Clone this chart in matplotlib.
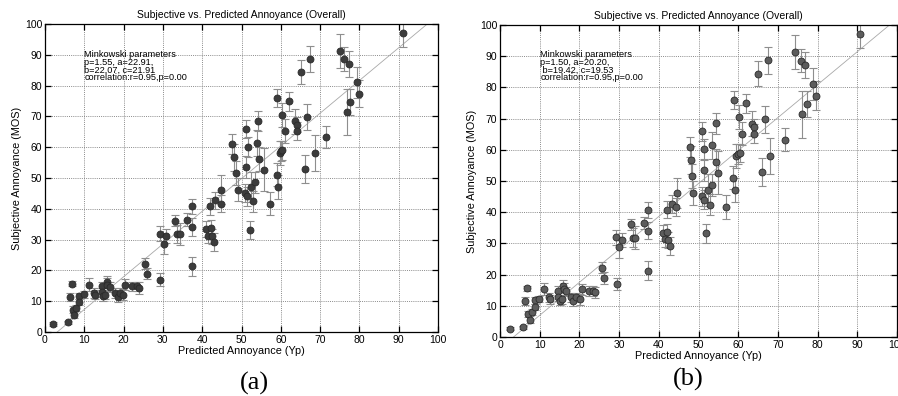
import matplotlib
matplotlib.use("Agg")
import matplotlib.pyplot as plt
import numpy as np

# ---------------- data ----------------
mos = [2.6, 3.1, 11.5, 15.6, 7.3, 5.6, 7.9, 11.7, 9.7, 12.2,
       15.4, 12.7, 12.1, 14.8, 12.9, 11.6, 12.1, 16.2, 15.4, 14.6,
       12.7, 11.4, 12.7, 12.1, 15.3, 14.8, 14.8, 14.3, 22.2, 18.9,
       17.0, 31.9, 28.7, 31.1, 36.1, 31.8, 31.8, 36.5, 40.8, 34.1,
       21.3, 33.4, 31.3, 40.8, 33.8, 31.1, 29.2, 42.7, 41.7, 46.2,
       61.0, 56.7, 51.6, 46.2, 45.1, 53.5, 65.9, 44.0, 60.1, 33.2,
       47.1, 42.4, 48.6, 61.4, 68.5, 56.2, 52.7, 41.7, 76.0, 51.1,
       47.1, 58.1, 70.5, 58.7, 59.0, 65.2, 74.9, 68.4, 67.3, 65.2,
       84.4, 52.9, 69.8, 88.7, 58.1, 63.3, 91.3, 88.6, 87.1, 71.4,
       74.7, 81.1, 77.4, 97.1]

pred_a = [2.1, 5.9, 6.4, 6.8, 7.0, 7.5, 7.9, 8.6, 8.7, 9.9,
          11.3, 12.5, 12.7, 14.4, 14.6, 14.8, 15.3, 15.8, 15.9, 16.5,
          17.8, 18.5, 19.1, 19.9, 20.3, 22.1, 23.3, 23.9, 25.4, 25.9,
          29.2, 29.3, 30.2, 30.8, 33.1, 33.6, 34.3, 36.2, 37.3, 37.5,
          37.3, 40.9, 41.4, 42.0, 42.2, 42.5, 42.9, 43.2, 44.7, 44.9,
          47.7, 48.1, 48.7, 49.2, 50.8, 51.1, 51.2, 51.4, 51.7, 52.1,
          52.5, 53.0, 53.5, 53.9, 54.1, 54.5, 55.8, 57.2, 59.0, 59.1,
          59.2, 59.7, 60.3, 60.0, 60.4, 61.1, 62.1, 63.7, 64.2, 64.2,
          65.1, 66.2, 66.7, 67.4, 68.7, 71.6, 75.0, 76.1, 77.3, 76.9,
          77.5, 79.4, 80.0, 91.1]

pred_b = [2.4, 5.9, 6.3, 6.9, 7.1, 7.6, 8.0, 8.7, 8.7, 9.9,
          11.1, 12.4, 12.6, 14.5, 14.5, 15.0, 15.5, 15.8, 16.0, 16.6,
          17.9, 18.3, 19.2, 20.2, 20.6, 22.3, 23.5, 24.0, 25.6, 26.1,
          29.4, 29.3, 30.1, 30.8, 33.0, 33.4, 34.1, 36.3, 37.3, 37.2,
          37.4, 41.1, 41.5, 42.0, 42.0, 42.3, 42.9, 43.2, 44.4, 44.6,
          47.9, 48.2, 48.3, 48.7, 50.8, 51.3, 51.0, 51.5, 51.5, 51.8,
          52.3, 53.0, 53.4, 53.3, 54.3, 54.5, 55.0, 56.9, 59.0, 58.8,
          59.1, 59.4, 60.1, 59.9, 60.5, 60.9, 62.0, 63.4, 64.1, 64.0,
          65.0, 66.1, 66.7, 67.5, 68.1, 71.7, 74.2, 75.8, 76.8, 76.1,
          77.3, 78.8, 79.6, 90.7]

err = [0.5, 0.5, 1.3, 0.8, 1.0, 1.0, 1.0, 1.0, 1.0, 1.0,
       2.0, 1.5, 1.5, 1.5, 1.5, 1.5, 1.5, 2.0, 2.0, 1.5,
       1.5, 1.5, 1.5, 1.8, 1.8, 1.5, 1.5, 1.8, 1.8, 1.8,
       2.0, 2.5, 3.5, 2.3, 1.8, 3.0, 3.7, 2.0, 2.5, 2.8,
       3.0, 2.5, 2.5, 2.8, 2.5, 2.5, 2.8, 2.8, 2.8, 4.8,
       3.2, 4.4, 3.8, 3.8, 3.0, 3.5, 3.0, 3.0, 3.3, 3.0,
       5.0, 3.3, 3.5, 4.2, 3.3, 4.0, 7.0, 3.8, 3.0, 3.8,
       3.8, 3.8, 3.8, 3.3, 3.0, 3.8, 3.0, 4.0, 2.5, 3.0,
       4.0, 4.5, 4.3, 4.3, 5.8, 3.6, 5.5, 3.8, 4.2, 7.6,
       4.2, 5.0, 4.5, 4.5]

fit_a = (1.062, -3.3)   # slope, intercept
fit_b = (1.056, -3.6)

ticks = [0, 10, 20, 30, 40, 50, 60, 70, 80, 90, 100]
title = "Subjective vs. Predicted Annoyance (Overall)"
xlabel = "Predicted Annoyance (Yp)"
ylabel = "Subjective Annoyance (MOS)"
notes_a = ["Minkowski parameters", "p=1.55, a=22.91,", "b=22.07, c=21.91",
           "correlation:r=0.95,p=0.00"]
notes_b = ["Minkowski parameters", "p=1.50, a=20.20,", " b=19.42, c=19.53",
           "correlation:r=0.95,p=0.00"]

# ---------------- plot ----------------
plt.rcParams['font.family'] = ['Liberation Sans', 'DejaVu Sans']
W, H = 898, 396
fig = plt.figure(figsize=(W / 100, H / 100), dpi=100)

def panel(rect, xs, fit, notes, note_pos, face, edge, caption, cap_xy):
    ax = fig.add_axes(rect)
    ax.errorbar(xs, mos, yerr=err, fmt='none', ecolor='#8e8e8e',
                elinewidth=0.8, capsize=2.8, capthick=0.8, zorder=2)
    xl = np.array([0, 100])
    ax.plot(xl, fit[0] * xl + fit[1], color='#a8a8a8', lw=0.6, zorder=1.5)
    ax.plot(xs, mos, 'o', ms=5.0, mfc=face, mec=edge, mew=0.6, zorder=3)
    ax.set_xlim(0, 100)
    ax.set_ylim(0, 100)
    ax.set_xticks(ticks)
    ax.set_yticks(ticks)
    ax.grid(True, ls=(0, (1, 1.2)), color='#8a8a8a', lw=0.7)
    ax.set_axisbelow(True)
    ax.tick_params(direction='in', length=4, width=0.9, top=True, right=True,
                   labelsize=7.5, pad=2)
    for s in ax.spines.values():
        s.set_linewidth(0.9)
    ax.set_title(title, fontsize=7.5, pad=4)
    ax.set_xlabel(xlabel, fontsize=7.8, labelpad=1)
    ax.set_ylabel(ylabel, fontsize=7.8, labelpad=2)
    nx, ny, step = note_pos
    for i, t in enumerate(notes):
        ax.text(nx, ny - i * step, t, fontsize=6.6, va='center', ha='left')
    fig.text(cap_xy[0] / W, 1 - cap_xy[1] / H, caption, fontsize=19,
             ha='center', va='center', family='Liberation Serif')
    return ax

panel([45 / W, 1 - 332 / H, 393 / W, 308 / H], pred_a, fit_a, notes_a,
      (10.0, 90.0, 2.45), '#3c3c3c', '#2a2a2a', '(a)', (254, 383))
panel([500 / W, 1 - 337 / H, 397 / W, 312 / H], pred_b, fit_b, notes_b,
      (10.2, 90.4, 2.45), '#5c5c5c', '#2a2a2a', '(b)', (688, 379))

fig.savefig('out.png', dpi=100)
